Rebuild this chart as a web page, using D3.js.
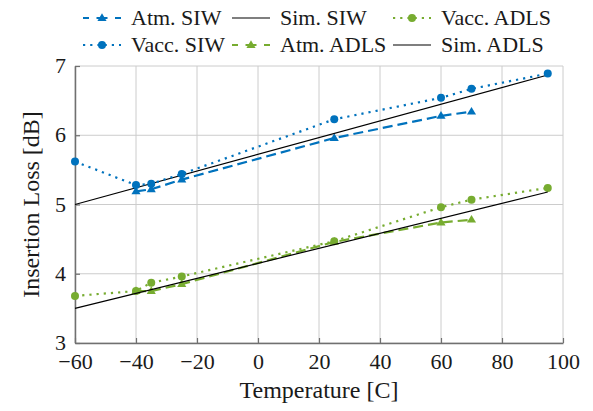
<!DOCTYPE html>
<html>
<head>
<meta charset="utf-8">
<script src="https://cdn.jsdelivr.net/npm/d3@7"></script>
<style>
  html, body { margin: 0; padding: 0; background: #fff; }
  svg { display: block; }
  text { font-family: "Liberation Serif", "Times New Roman", serif; fill: #1a1a1a; }
</style>
</head>
<body>
<svg id="chart" width="593" height="411"></svg>
<script>
// Insertion loss vs temperature for SIW and ADLS lines
const xTicks = [-60, -40, -20, 0, 20, 40, 60, 80, 100];
const yTicks = [3, 4, 5, 6, 7];

const atmTemps = [-40, -35, -25, 25, 60, 70];
const vaccTemps = [-60, -40, -35, -25, 25, 60, 70, 95];
const simTemps = [-60, 95];

const atmSIW = [5.19, 5.22, 5.36, 5.96, 6.28, 6.34];
const vaccSIW = [5.62, 5.28, 5.30, 5.44, 6.23, 6.54, 6.67, 6.89];
const simSIW = [5.00, 6.87];

const atmADLS = [3.75, 3.75, 3.85, 4.46, 4.74, 4.78];
const vaccADLS = [3.68, 3.75, 3.87, 3.96, 4.47, 4.96, 5.07, 5.24];
const simADLS = [3.50, 5.18];

const BLUE = "#0072bd", GREEN = "#77ac30";

// plotted in the order the legend reads (row by row)
const series = [
  { name: "Atm. SIW",   xs: atmTemps,  ys: atmSIW,   color: BLUE,  style: "dashed", marker: "triangle" },
  { name: "Sim. SIW",   xs: simTemps,  ys: simSIW,   color: "#000", style: "solid",  marker: null },
  { name: "Vacc. ADLS", xs: vaccTemps, ys: vaccADLS, color: GREEN, style: "dotted", marker: "circle" },
  { name: "Vacc. SIW",  xs: vaccTemps, ys: vaccSIW,  color: BLUE,  style: "dotted", marker: "circle" },
  { name: "Atm. ADLS",  xs: atmTemps,  ys: atmADLS,  color: GREEN, style: "dashed", marker: "triangle" },
  { name: "Sim. ADLS",  xs: simTemps,  ys: simADLS,  color: "#000", style: "solid",  marker: null }
];

const svg = d3.select("#chart");
const L = 75, R = 563, T = 66, B = 343;
const x = d3.scaleLinear().domain([-60, 100]).range([L, R]);
const y = d3.scaleLinear().domain([3, 7]).range([B, T]);

const TICK_FONT = 22, LEGEND_FONT = 22, TITLE_FONT = 24;

// grid
const grid = svg.append("g").attr("stroke", "#cccccc").attr("stroke-width", 1);
xTicks.forEach(t => grid.append("line").attr("x1", x(t)).attr("x2", x(t)).attr("y1", T).attr("y2", B));
yTicks.forEach(t => grid.append("line").attr("x1", L).attr("x2", R).attr("y1", y(t)).attr("y2", y(t)));

// axes (left and bottom only, ticks pointing inward)
const xAxis = d3.axisBottom(x).tickValues(xTicks).tickSizeInner(-5).tickSizeOuter(0)
  .tickFormat(d => d < 0 ? "\u2212" + Math.abs(d) : String(d));
const gx = svg.append("g").attr("transform", `translate(0,${B})`).call(xAxis);
gx.select(".domain").attr("stroke", "#707070").attr("stroke-width", 1.5);
gx.selectAll(".tick line").attr("stroke", "#707070").attr("stroke-width", 1.2);
gx.selectAll(".tick text").attr("y", 0).attr("dy", "1.17em")
  .style("font-family", "Liberation Serif").style("font-size", TICK_FONT + "px").attr("fill", "#1a1a1a");

const yAxis = d3.axisLeft(y).tickValues(yTicks).tickSizeInner(-5).tickSizeOuter(0).tickFormat(d3.format("d"));
const gy = svg.append("g").attr("transform", `translate(${L},0)`).call(yAxis);
gy.select(".domain").attr("stroke", "#707070").attr("stroke-width", 1.5);
gy.selectAll(".tick line").attr("stroke", "#707070").attr("stroke-width", 1.2);
gy.selectAll(".tick text").attr("x", -9).attr("dy", "0.3em")
  .style("font-family", "Liberation Serif").style("font-size", TICK_FONT + "px").attr("fill", "#1a1a1a");

// axis titles
svg.append("text").attr("x", (L + R) / 2).attr("y", 398).attr("text-anchor", "middle")
  .style("font-size", TITLE_FONT + "px").text("Temperature [C]");
svg.append("text").attr("transform", `translate(39,${(T + B) / 2}) rotate(-90)`).attr("text-anchor", "middle")
  .style("font-size", TITLE_FONT + "px").text("Insertion Loss [dB]");

const dashFor = s => s === "dashed" ? "10,5" : s === "dotted" ? "2.2,5" : null;
const widthFor = s => s === "solid" ? 1.2 : 2.2;

function drawMarker(g, kind, cx, cy, color) {
  if (kind === "circle") {
    g.append("circle").attr("cx", cx).attr("cy", cy).attr("r", 4).attr("fill", color);
  } else if (kind === "triangle") {
    const s = 4.8;
    g.append("path").attr("d", `M${cx},${cy - s}L${cx + s * 0.95},${cy + s * 0.6}L${cx - s * 0.95},${cy + s * 0.6}Z`)
      .attr("fill", color);
  }
}

const line = d3.line().x(d => x(d[0])).y(d => y(d[1]));
const plot = svg.append("g");
series.forEach(s => {
  const pts = s.xs.map((t, i) => [t, s.ys[i]]);
  plot.append("path").datum(pts).attr("d", line).attr("fill", "none")
    .attr("stroke", s.color).attr("stroke-width", widthFor(s.style))
    .attr("stroke-dasharray", dashFor(s.style));
  if (s.marker) {
    const mg = plot.append("g");
    pts.forEach(p => drawMarker(mg, s.marker, x(p[0]), y(p[1]), s.color));
  }
});

// legend: 3 columns, 2 rows
const colImg = [83, 232, 393];
const colText = [131, 280, 441];
const imgW = 38;
const rowY = [18, 45];
const legend = svg.append("g");
series.forEach((s, i) => {
  const r = Math.floor(i / 3), c = i % 3;
  const x0 = colImg[c], yy = rowY[r];
  const lg = legend.append("g");
  if (s.style === "dashed") {
    lg.append("line").attr("x1", x0).attr("x2", x0 + imgW).attr("y1", yy).attr("y2", yy)
      .attr("stroke", s.color).attr("stroke-width", 2.2).attr("stroke-dasharray", "6,7.5,11,7.5,6");
  } else if (s.style === "dotted") {
    lg.append("line").attr("x1", x0).attr("x2", x0 + imgW).attr("y1", yy).attr("y2", yy)
      .attr("stroke", s.color).attr("stroke-width", 2.2).attr("stroke-dasharray", "2.2,5");
  } else {
    lg.append("line").attr("x1", x0).attr("x2", x0 + imgW).attr("y1", yy).attr("y2", yy)
      .attr("stroke", "#555").attr("stroke-width", 1.4);
  }
  if (s.marker) drawMarker(lg, s.marker, x0 + imgW / 2, yy, s.color);
  lg.append("text").attr("x", colText[c]).attr("y", yy).attr("dy", "0.34em")
    .style("font-size", LEGEND_FONT + "px").text(s.name);
});
</script>
</body>
</html>
